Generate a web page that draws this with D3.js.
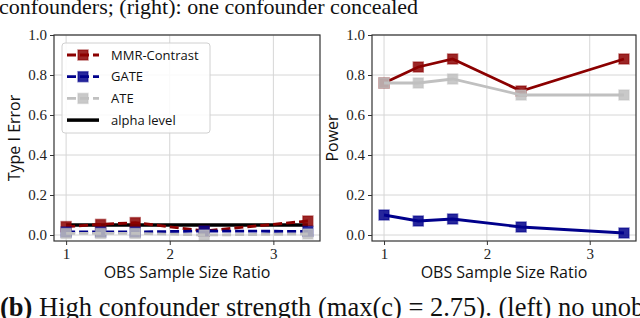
<!DOCTYPE html>
<html>
<head>
<meta charset="utf-8">
<script src="https://cdn.jsdelivr.net/npm/d3@7"></script>
<style>
  body { margin: 0; background: #fff; }
  svg { display: block; }
</style>
</head>
<body>
<div id="chart"></div>
<script>
// sample size ratios and test results
const ratios = [1, 1.333, 1.667, 2.333, 3.333];
const xTicks = [1, 2, 3];
const yTicks = [0, 0.2, 0.4, 0.6, 0.8, 1.0];

const typeIMMR = [0.042, 0.053, 0.062, 0.02, 0.07];
const typeIGATE = [0.015, 0.015, 0.015, 0.02, 0.018];
const typeIATE = [0.008, 0.008, 0.008, 0.0, 0.005];
const alphaLevel = 0.05;

const powerMMR = [0.76, 0.84, 0.88, 0.72, 0.88];
const powerGATE = [0.10, 0.07, 0.08, 0.04, 0.01];
const powerATE = [0.76, 0.76, 0.78, 0.70, 0.70];

const seriesNames = ['MMR-Contrast', 'GATE', 'ATE'];
const colors = { 'MMR-Contrast': '#8b0000', 'GATE': '#00008b', 'ATE': '#c0c0c0' };

const W = 640, H = 318;
const svg = d3.select('#chart').append('svg')
  .attr('width', W).attr('height', H);

const serif = '"Liberation Serif", "Times New Roman", serif';
const sans = '"Open Sans", Lato, sans-serif';

function drawPanel(x0, x1, yLabel, data, dashed, showAlpha) {
  const x = d3.scaleLinear().domain([0.883, 3.45]).range([x0, x1]);
  const y = d3.scaleLinear().domain([-0.03, 1.0]).range([241, 35]);
  const g = svg.append('g');

  // grid
  g.selectAll('.gx').data(xTicks).enter().append('line')
    .attr('x1', d => x(d)).attr('x2', d => x(d))
    .attr('y1', y.range()[1]).attr('y2', y.range()[0])
    .attr('stroke', '#d6d6d6').attr('stroke-width', 1);
  g.selectAll('.gy').data(yTicks).enter().append('line')
    .attr('x1', x0).attr('x2', x1)
    .attr('y1', d => y(d)).attr('y2', d => y(d))
    .attr('stroke', '#d6d6d6').attr('stroke-width', 1);

  // axes
  const ax = g.append('g')
    .attr('transform', `translate(0, ${y.range()[0]})`)
    .call(d3.axisBottom(x).tickValues(xTicks).tickSize(4).tickPadding(3).tickFormat(d3.format('d')));
  const ay = g.append('g')
    .attr('transform', `translate(${x0}, 0)`)
    .call(d3.axisLeft(y).tickValues(yTicks).tickSize(4).tickPadding(3).tickFormat(d3.format('.1f')));
  [ax, ay].forEach(a => {
    a.select('.domain').remove();
    a.selectAll('line').attr('stroke', '#333');
    a.selectAll('text').attr('font-family', serif).attr('font-size', 15).attr('fill', '#222');
  });

  if (showAlpha) {
    g.append('line')
      .attr('x1', x(ratios[0])).attr('x2', x(ratios[ratios.length - 1]))
      .attr('y1', y(alphaLevel)).attr('y2', y(alphaLevel))
      .attr('stroke', '#000').attr('stroke-width', 3.5);
  }

  const line = d3.line().x((d, i) => x(ratios[i])).y(d => y(d));
  seriesNames.forEach(name => {
    const vals = data[name];
    const c = colors[name];
    g.append('path').datum(vals)
      .attr('fill', 'none').attr('stroke', c).attr('stroke-width', 2.8)
      .attr('stroke-dasharray', dashed ? '9,4' : null)
      .attr('d', line);
    g.selectAll(null).data(vals).enter().append('rect')
      .attr('x', (d, i) => x(ratios[i]) - 5).attr('y', d => y(d) - 5)
      .attr('width', 10).attr('height', 10)
      .attr('fill', c).attr('fill-opacity', 0.85)
      .attr('stroke', c).attr('stroke-opacity', 0.5).attr('stroke-width', 1.5);
  });

  // frame
  g.append('rect')
    .attr('x', x0).attr('y', y.range()[1])
    .attr('width', x1 - x0).attr('height', y.range()[0] - y.range()[1])
    .attr('fill', 'none').attr('stroke', '#333').attr('stroke-width', 1.2);

  // labels
  g.append('text')
    .attr('x', (x0 + x1) / 2).attr('y', 278)
    .attr('text-anchor', 'middle')
    .attr('font-family', sans).attr('font-size', 16).attr('fill', '#111')
    .text('OBS Sample Size Ratio');
  g.append('text')
    .attr('transform', `translate(${x0 - 34}, ${(y.range()[0] + y.range()[1]) / 2}) rotate(-90)`)
    .attr('text-anchor', 'middle')
    .attr('font-family', sans).attr('font-size', 16).attr('fill', '#111')
    .text(yLabel);
}

drawPanel(54, 320, 'Type I Error',
  { 'MMR-Contrast': typeIMMR, 'GATE': typeIGATE, 'ATE': typeIATE }, true, true);
drawPanel(372, 636, 'Power',
  { 'MMR-Contrast': powerMMR, 'GATE': powerGATE, 'ATE': powerATE }, false, false);

// legend
const lg = svg.append('g');
lg.append('rect')
  .attr('x', 62).attr('y', 43).attr('width', 148).attr('height', 90).attr('rx', 3)
  .attr('fill', '#fff').attr('fill-opacity', 0.85)
  .attr('stroke', '#d0d0d0').attr('stroke-width', 1);
const legendItems = seriesNames.concat(['alpha level']);
legendItems.forEach((name, i) => {
  const ly = 55 + i * 21.7;
  const isAlpha = name === 'alpha level';
  const c = isAlpha ? '#000' : colors[name];
  lg.append('line')
    .attr('x1', 67).attr('x2', 99).attr('y1', ly).attr('y2', ly)
    .attr('stroke', c).attr('stroke-width', isAlpha ? 3.5 : 2.8)
    .attr('stroke-dasharray', isAlpha ? null : '9,4');
  if (!isAlpha) {
    lg.append('rect')
      .attr('x', 78).attr('y', ly - 5).attr('width', 10).attr('height', 10)
      .attr('fill', c).attr('fill-opacity', 0.85)
      .attr('stroke', c).attr('stroke-opacity', 0.5).attr('stroke-width', 1.5);
  }
  lg.append('text')
    .attr('x', 111).attr('y', ly + 4.5)
    .attr('font-family', sans).attr('font-size', 13).attr('fill', '#111')
    .text(name);
});

// surrounding caption text
svg.append('text')
  .attr('x', -1).attr('y', 14)
  .attr('font-family', serif).attr('font-size', 22).attr('fill', '#111')
  .text('confounders; (right): one confounder concealed');
const cap = svg.append('text')
  .attr('x', 0).attr('y', 316)
  .attr('font-family', serif).attr('font-size', 26.5).attr('fill', '#111');
cap.append('tspan').attr('font-weight', 'bold').text('(b)');
cap.append('tspan').text(' High confounder strength (max(c) = 2.75). (left) no unobserved');
</script>
</body>
</html>
